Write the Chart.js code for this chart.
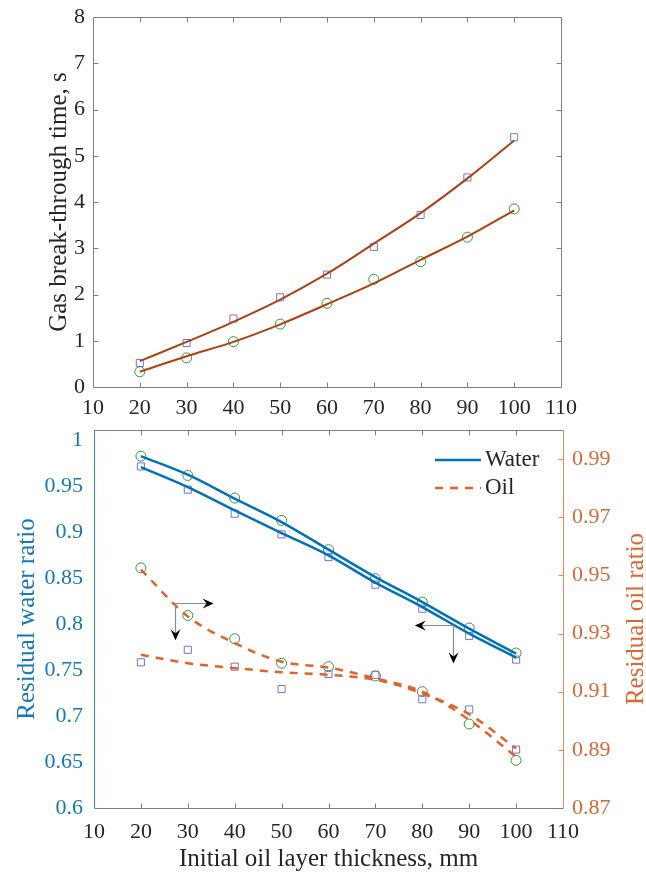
<!DOCTYPE html>
<html><head><meta charset="utf-8">
<script src="https://cdn.jsdelivr.net/npm/chart.js@4.4.0/dist/chart.umd.min.js"></script>
<style>
html,body{margin:0;padding:0;background:#fff;overflow:hidden;}
#c1{position:absolute;left:0;top:0;}
#c2{position:absolute;left:0;top:420px;}
</style></head><body>
<canvas id="c1" width="646" height="420"></canvas>
<canvas id="c2" width="646" height="454"></canvas>
<script>
// ---------- data ----------
const thickness = [20, 30, 40, 50, 60, 70, 80, 90, 100];
const xTicks = [10, 20, 30, 40, 50, 60, 70, 80, 90, 100, 110];
const gasTicks = [0, 1, 2, 3, 4, 5, 6, 7, 8];
const waterTicks = [0.6, 0.65, 0.7, 0.75, 0.8, 0.85, 0.9, 0.95, 1];
const oilTicks = [0.87, 0.89, 0.91, 0.93, 0.95, 0.97, 0.99];

const gasSquares    = [0.52, 0.95, 1.48, 1.94, 2.43, 3.03, 3.72, 4.53, 5.40];
const gasCircles    = [0.33, 0.63, 0.98, 1.36, 1.81, 2.33, 2.71, 3.24, 3.85];
const gasFitSquares = [0.56, 0.975, 1.41, 1.89, 2.45, 3.10, 3.76, 4.51, 5.33];
const gasFitCircles = [0.33, 0.665, 0.975, 1.355, 1.79, 2.24, 2.75, 3.25, 3.82];

const waterCircles    = [0.9826, 0.9616, 0.9370, 0.9127, 0.8809, 0.8493, 0.8239, 0.7957, 0.7685];
const waterSquares    = [0.9714, 0.9461, 0.9200, 0.8975, 0.8728, 0.8428, 0.8167, 0.7870, 0.7613];
const waterFitCircles = [0.9826, 0.9624, 0.9363, 0.9109, 0.8809, 0.8511, 0.8239, 0.7950, 0.7678];
const waterFitSquares = [0.9707, 0.9489, 0.9236, 0.8989, 0.8747, 0.8450, 0.8185, 0.7896, 0.7635];

const oilCircles    = [0.9526, 0.9362, 0.9282, 0.9198, 0.9186, 0.9154, 0.9100, 0.8989, 0.8864];
const oilSquares    = [0.9201, 0.9244, 0.9186, 0.9109, 0.9161, 0.9158, 0.9074, 0.9039, 0.8901];
const oilFitCircles = [0.9520, 0.9359, 0.9267, 0.9203, 0.9183, 0.9146, 0.9100, 0.9003, 0.8876];
const oilFitSquares = [0.9227, 0.9198, 0.9181, 0.9167, 0.9158, 0.9141, 0.9094, 0.9022, 0.8905];

// annotation arrows (data units, left axis)
const arrowFromX = [27.2, 86.5];
const arrowFromY = [0.8230, 0.7988];
const arrowToX   = [35.5, 78.4];
const arrowToY   = [0.7824, 0.7571];

// ---------- styles ----------
const FONT = "'Liberation Serif', 'Times New Roman', serif";
const DARK = '#262626';
const FIT_RED = '#B0400F';
const SQ = '#7474D8';
const CI = '#2E9B3A';
const BLUE = '#0072BD';
const BLUE_TXT = '#1378BE';
const ORANGE = '#E4622A';
const ORANGE_TXT = '#DE6630';
const GRAY = '#7F7F7F';

const pts = arr => thickness.map((x, i) => ({x: x, y: arr[i]}));
const setTicks = list => s => { s.ticks = list.map(v => ({value: v})); };
const zeroPad = s => { s.paddingTop = 0; s.paddingBottom = 0; s.paddingLeft = 0; s.paddingRight = 0; };
const fmt = v => String(Number(Number(v).toFixed(3)));

function fitLine(data, color, axis, dash, width) {
  return {type: 'line', data: pts(data), borderColor: color, borderWidth: width, borderDash: dash,
    pointRadius: 0, fill: false, cubicInterpolationMode: 'monotone', yAxisID: axis};
}
function markers(data, style, color, axis) {
  return {type: 'line', data: pts(data), showLine: false, pointStyle: style,
    pointRadius: 5, pointBorderWidth: 1, pointBorderColor: color, pointBackgroundColor: 'rgba(0,0,0,0)',
    borderColor: color, yAxisID: axis};
}

function crisp(v) { return Math.round(v) + 0.5; }

const noGrid = {display: false, drawTicks: false};

// ---------- top chart ----------
const topFrame = {
  id: 'topFrame',
  afterDraw(chart) {
    const {ctx, chartArea: a, scales: {x, y}} = chart;
    const L = crisp(a.left), R = crisp(a.right), T = crisp(a.top), B = crisp(a.bottom);
    ctx.save();
    ctx.strokeStyle = GRAY; ctx.lineWidth = 1;
    ctx.beginPath();
    ctx.rect(L, T, R - L, B - T);
    xTicks.slice(1, -1).forEach(v => {
      const px = crisp(x.getPixelForValue(v));
      ctx.moveTo(px, B); ctx.lineTo(px, B - 5);
      ctx.moveTo(px, T); ctx.lineTo(px, T + 5);
    });
    gasTicks.slice(1, -1).forEach(v => {
      const py = crisp(y.getPixelForValue(v));
      ctx.moveTo(L, py); ctx.lineTo(L + 5, py);
      ctx.moveTo(R, py); ctx.lineTo(R - 5, py);
    });
    ctx.stroke();
    ctx.restore();
  }
};

new Chart(document.getElementById('c1'), {
  type: 'line',
  data: {
    datasets: [
      fitLine(gasFitSquares, FIT_RED, 'y', [], 2),
      fitLine(gasFitCircles, FIT_RED, 'y', [], 2),
      markers(gasSquares, 'rect', SQ, 'y'),
      markers(gasCircles, 'circle', CI, 'y')
    ]
  },
  options: {
    responsive: false, animation: false, devicePixelRatio: 1,
    layout: {padding: {top: 17, right: 85, left: 0, bottom: 0}},
    plugins: {legend: {display: false}, tooltip: {enabled: false}},
    scales: {
      x: {
        type: 'linear', min: 10, max: 110,
        afterBuildTicks: setTicks(xTicks),
        grid: noGrid, border: {display: false},
        ticks: {font: {family: FONT, size: 22}, color: DARK, padding: 8, maxRotation: 0, autoSkip: false, callback: fmt},
        afterFit: s => { s.height = 33; zeroPad(s); }
      },
      y: {
        type: 'linear', min: 0, max: 8,
        afterBuildTicks: setTicks(gasTicks),
        grid: noGrid, border: {display: false},
        ticks: {font: {family: FONT, size: 22}, color: DARK, padding: 8, autoSkip: false, callback: fmt},
        title: {display: true, text: 'Gas break-through time, s', color: DARK,
          font: {family: FONT, size: 25}, padding: {top: 44, bottom: 0}},
        afterFit: s => { s.width = 93; zeroPad(s); }
      }
    }
  },
  plugins: [topFrame]
});

// ---------- bottom chart ----------
function arrowHead(ctx, tx, ty, ux, uy) {
  const len = 11, half = 5, notch = 7;
  const px = -uy, py = ux;
  ctx.beginPath();
  ctx.moveTo(tx, ty);
  ctx.lineTo(tx - ux * len + px * half, ty - uy * len + py * half);
  ctx.lineTo(tx - ux * notch, ty - uy * notch);
  ctx.lineTo(tx - ux * len - px * half, ty - uy * len - py * half);
  ctx.closePath();
  ctx.fill();
}

const bottomFrame = {
  id: 'bottomFrame',
  afterDraw(chart) {
    const {ctx, chartArea: a, scales: {x, y, y2}} = chart;
    const L = crisp(a.left), R = crisp(a.right), T = crisp(a.top), B = crisp(a.bottom);
    ctx.save();
    ctx.lineWidth = 1;
    ctx.strokeStyle = GRAY;
    ctx.beginPath();
    ctx.moveTo(L, T); ctx.lineTo(R, T);
    ctx.moveTo(L, B); ctx.lineTo(R, B);
    xTicks.slice(1, -1).forEach(v => {
      const px = crisp(x.getPixelForValue(v));
      ctx.moveTo(px, B); ctx.lineTo(px, B - 5);
      ctx.moveTo(px, T); ctx.lineTo(px, T + 5);
    });
    ctx.stroke();
    ctx.strokeStyle = '#2a8ac8';
    ctx.beginPath(); ctx.moveTo(L, T); ctx.lineTo(L, B); ctx.stroke();
    ctx.strokeStyle = '#E98A5E';
    ctx.beginPath(); ctx.moveTo(R, T); ctx.lineTo(R, B);
    oilTicks.slice(1).forEach(v => {
      const py = crisp(y2.getPixelForValue(v));
      ctx.moveTo(R, py); ctx.lineTo(R - 5, py);
    });
    ctx.stroke();

    // arrows
    for (let i = 0; i < arrowFromX.length; i++) {
      const cx = x.getPixelForValue(arrowFromX[i]), cy = y.getPixelForValue(arrowFromY[i]);
      const hx = x.getPixelForValue(arrowToX[i]), vy = y.getPixelForValue(arrowToY[i]);
      ctx.strokeStyle = '#8c8c8c'; ctx.lineWidth = 1.2;
      ctx.beginPath();
      ctx.moveTo(hx - Math.sign(hx - cx) * 6, crisp(cy)); ctx.lineTo(cx, crisp(cy));
      ctx.moveTo(crisp(cx), cy); ctx.lineTo(crisp(cx), vy - 6);
      ctx.stroke();
      ctx.fillStyle = '#000';
      arrowHead(ctx, hx, crisp(cy), Math.sign(hx - cx), 0);
      arrowHead(ctx, crisp(cx), vy, 0, 1);
    }

    // legend
    const lx0 = a.right - 128, lx1 = a.right - 82;
    const ly1 = a.top + 30, ly2 = a.top + 58;
    ctx.lineWidth = 2.5;
    ctx.strokeStyle = BLUE;
    ctx.beginPath(); ctx.moveTo(lx0, ly1); ctx.lineTo(lx1, ly1); ctx.stroke();
    ctx.strokeStyle = ORANGE; ctx.setLineDash([8, 7]);
    ctx.beginPath(); ctx.moveTo(lx0, ly2); ctx.lineTo(lx1, ly2); ctx.stroke();
    ctx.setLineDash([]);
    ctx.fillStyle = DARK;
    ctx.font = '23px ' + FONT;
    ctx.textBaseline = 'middle'; ctx.textAlign = 'left';
    ctx.fillText('Water', lx1 + 4, ly1);
    ctx.fillText('Oil', lx1 + 4, ly2);

    // right axis title (reads bottom-to-top)
    ctx.save();
    ctx.translate(636, (a.top + a.bottom) / 2);
    ctx.rotate(-Math.PI / 2);
    ctx.fillStyle = ORANGE_TXT;
    ctx.font = '25px ' + FONT;
    ctx.textAlign = 'center'; ctx.textBaseline = 'middle';
    ctx.fillText('Residual oil ratio', 0, 0);
    ctx.restore();

    ctx.restore();
  }
};

new Chart(document.getElementById('c2'), {
  type: 'line',
  data: {
    datasets: [
      fitLine(waterFitCircles, BLUE, 'y', [], 2.5),
      fitLine(waterFitSquares, BLUE, 'y', [], 2.5),
      fitLine(oilFitCircles, ORANGE, 'y2', [8, 7], 2.5),
      fitLine(oilFitSquares, ORANGE, 'y2', [8, 7], 2.5),
      markers(waterSquares, 'rect', SQ, 'y'),
      markers(waterCircles, 'circle', CI, 'y'),
      markers(oilSquares, 'rect', SQ, 'y2'),
      markers(oilCircles, 'circle', CI, 'y2')
    ]
  },
  options: {
    responsive: false, animation: false, devicePixelRatio: 1,
    layout: {padding: {top: 10, right: 0, left: 0, bottom: 0}},
    plugins: {legend: {display: false}, tooltip: {enabled: false}},
    scales: {
      x: {
        type: 'linear', min: 10, max: 110,
        afterBuildTicks: setTicks(xTicks),
        grid: noGrid, border: {display: false},
        ticks: {font: {family: FONT, size: 22}, color: DARK, padding: 11, maxRotation: 0, autoSkip: false, callback: fmt},
        title: {display: true, text: 'Initial oil layer thickness, mm', color: DARK,
          font: {family: FONT, size: 25}, padding: {top: 0, bottom: 0}},
        afterFit: s => { s.height = 66; zeroPad(s); }
      },
      y: {
        type: 'linear', position: 'left', min: 0.6, max: 1.011,
        afterBuildTicks: setTicks(waterTicks),
        grid: noGrid, border: {display: false},
        ticks: {font: {family: FONT, size: 22}, color: BLUE_TXT, padding: 11, autoSkip: false, callback: fmt},
        title: {display: true, text: 'Residual water ratio', color: BLUE_TXT,
          font: {family: FONT, size: 25}, padding: {top: 12, bottom: 0}},
        afterFit: s => { s.width = 94; zeroPad(s); }
      },
      y2: {
        type: 'linear', position: 'right', min: 0.87, max: 1.0,
        afterBuildTicks: setTicks(oilTicks),
        grid: noGrid, border: {display: false},
        ticks: {font: {family: FONT, size: 22}, color: ORANGE_TXT, padding: 9, autoSkip: false, callback: fmt},
        afterFit: s => { s.width = 83; zeroPad(s); }
      }
    }
  },
  plugins: [bottomFrame]
});
</script>
</body></html>
